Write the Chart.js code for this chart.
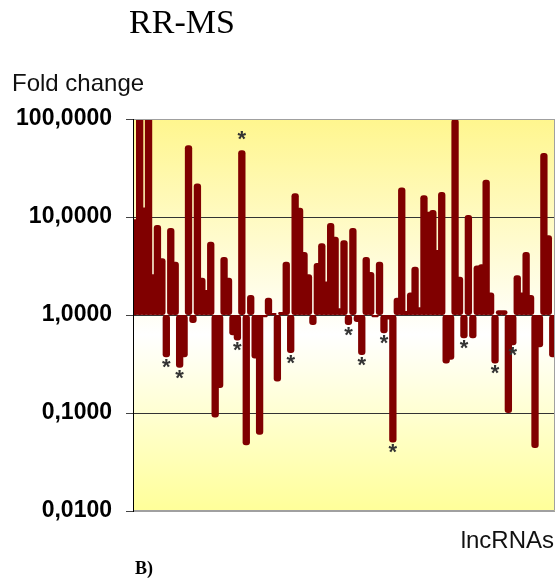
<!DOCTYPE html>
<html><head><meta charset="utf-8">
<script src="https://cdn.jsdelivr.net/npm/chart.js@4.4.1/dist/chart.umd.min.js"></script>
<style>html,body{margin:0;padding:0;background:#fff;}#wrap{position:relative;width:558px;height:580px;}</style>
</head><body><div id="wrap"><canvas id="c" width="558" height="580"></canvas></div>
<script>
// Fold change per lncRNA (RR-MS)
const foldChange = [
  9.5, 120, 12.5, 120, 2.6, 8.3, 3.8, 0.37, 7.7, 3.5,
  0.29, 0.37, 54, 0.83, 22, 2.4, 1.8, 5.6, 0.09, 0.18,
  3.9, 2.4, 0.62, 0.55, 48, 0.047, 1.6, 0.36, 0.06, 0.95,
  1.5, 1.05, 0.21, 1.07, 3.5, 0.41, 17.5, 12.4, 4.4, 2.6,
  0.79, 3.4, 5.4, 2.2, 8.7, 6.3, 1.17, 5.8, 0.79, 7.7,
  0.85, 0.39, 3.9, 2.75, 0.95, 3.5, 0.65, 0.9, 0.05, 1.5,
  20, 1.1, 1.7, 3.1, 1.2, 16.7, 11.3, 11.8, 4.6, 18,
  0.32, 0.35, 100, 2.45, 0.58, 10.5, 0.58, 3.2, 3.3, 24,
  1.7, 0.32, 1.12, 1.12, 0.10, 0.49, 2.55, 1.7, 4.4, 1.6,
  0.044, 0.47, 45, 6.5, 0.37
];
const categories = foldChange.map((_, i) => 'lncRNA ' + (i + 1));
// indices of bars marked with an asterisk
const starred = [7, 10, 23, 24, 35, 48, 51, 56, 58, 74, 81, 85];
const tickValues = [0.01, 0.1, 1, 10, 100];
const tickLabels = ['0,0100', '0,1000', '1,0000', '10,0000', '100,0000'];

const bgPlugin = {
  id: 'bg',
  beforeDraw(chart) {
    const {ctx, chartArea: a} = chart;
    const g = ctx.createLinearGradient(0, a.top, 0, a.bottom);
    g.addColorStop(0, '#FFF68E');
    g.addColorStop(0.55, '#FFFFFF');
    g.addColorStop(1, '#FFFF99');
    ctx.save();
    ctx.fillStyle = g;
    ctx.fillRect(a.left, a.top, a.right - a.left, a.bottom - a.top);
    ctx.restore();
  }
};

const textPlugin = {
  id: 'texts',
  afterDatasetsDraw(chart) {
    const {ctx, chartArea: a} = chart;
    ctx.save();
    // frame
    ctx.strokeStyle = '#A0A0A0';
    ctx.lineWidth = 1;
    ctx.beginPath();
    ctx.moveTo(a.left, a.top + 0.5); ctx.lineTo(a.right - 0.5, a.top + 0.5);
    ctx.lineTo(a.right - 0.5, a.bottom - 0.5); ctx.lineTo(a.left, a.bottom - 0.5);
    ctx.stroke();
    ctx.strokeStyle = '#000';
    ctx.beginPath(); ctx.moveTo(a.left + 0.5, a.top); ctx.lineTo(a.left + 0.5, a.bottom); ctx.stroke();
    // asterisks
    const meta = chart.getDatasetMeta(0);
    const ys = chart.scales.y;
    const fs = 22;
    ctx.fillStyle = '#333';
    ctx.font = 'bold ' + fs + 'px "Liberation Sans"';
    ctx.textAlign = 'center';
    ctx.textBaseline = 'alphabetic';
    starred.forEach(i => {
      const el = meta.data[i];
      const v = foldChange[i];
      const py = ys.getPixelForValue(v);
      const cy = v >= 1 ? py - 17 : py + 4;
      ctx.fillText('*', el.x, cy + 0.585 * fs);
    });
    ctx.restore();
  },
  afterDraw(chart) {
    const {ctx} = chart;
    ctx.save();
    ctx.fillStyle = '#000';
    ctx.textBaseline = 'alphabetic';
    ctx.textAlign = 'center';
    ctx.font = '34px "Liberation Serif"';
    ctx.fillText('RR-MS', 182, 33);
    ctx.textAlign = 'left';
    ctx.fillStyle = '#111';
    ctx.font = '24px "Liberation Sans"';
    ctx.fillText('Fold change', 12, 91);
    ctx.textAlign = 'right';
    ctx.fillText('lncRNAs', 554, 548);
    ctx.textAlign = 'left';
    ctx.fillStyle = '#000';
    ctx.font = 'bold 18px "Liberation Serif"';
    ctx.fillText('B)', 135, 574);
    ctx.restore();
  }
};

new Chart(document.getElementById('c'), {
  type: 'bar',
  data: {
    labels: categories,
    datasets: [{
      data: foldChange.map(v => [1, v]),
      backgroundColor: '#800000',
      borderWidth: 0,
      borderRadius: 3,
      borderSkipped: false,
      barPercentage: 1.65,
      categoryPercentage: 1
    }]
  },
  options: {
    responsive: false,
    animation: false,
    devicePixelRatio: 1,
    layout: {padding: {top: 119, right: 3, bottom: 69, left: 0}},
    plugins: {legend: {display: false}, tooltip: {enabled: false}},
    scales: {
      x: {display: false, offset: true},
      y: {
        type: 'logarithmic',
        min: 0.01, max: 100,
        afterBuildTicks: s => { s.ticks = tickValues.map(v => ({value: v})); },
        afterFit: s => { s.width = 133; },
        ticks: {
          callback: v => { const k = tickValues.findIndex(t => Math.abs(t - v) < t * 1e-6); return k >= 0 ? tickLabels[k] : ''; },
          font: {family: 'Liberation Sans', size: 23, weight: 'bold'},
          color: '#000',
          padding: 14
        },
        grid: {
          color: c => (c.tick && (c.tick.value === 100 || c.tick.value === 0.01)) ? '#A0A0A0' : '#333',
          tickColor: '#444',
          tickLength: 7,
          drawTicks: true
        },
        border: {color: '#000', width: 1}
      }
    }
  },
  plugins: [bgPlugin, textPlugin]
});
</script></body></html>
